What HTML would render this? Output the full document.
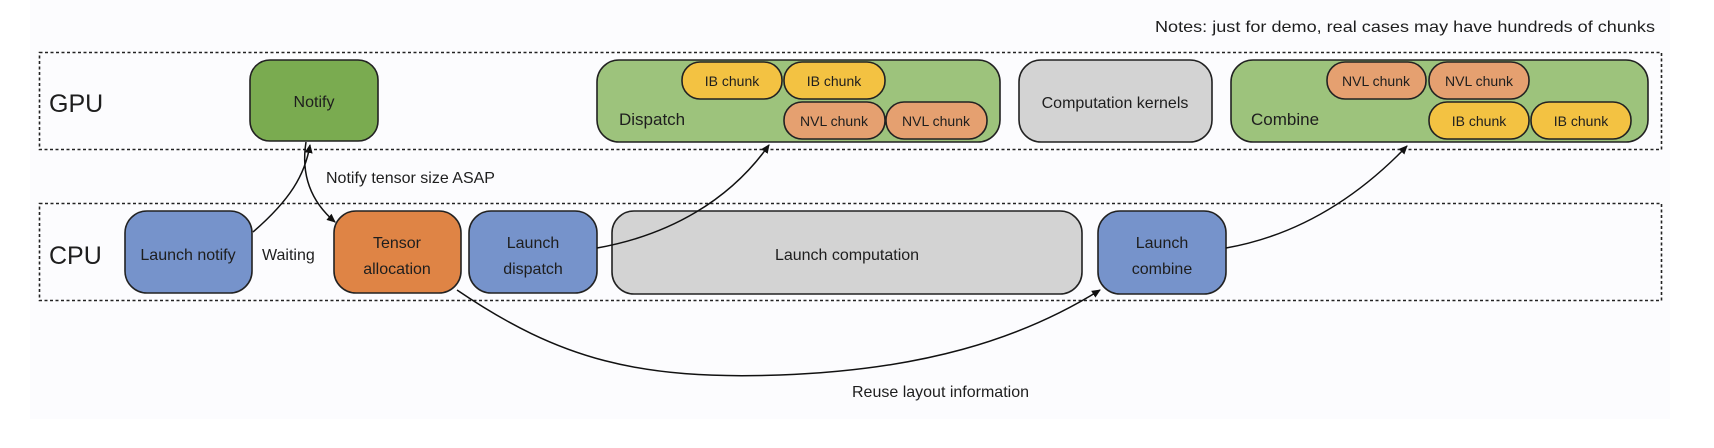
<!DOCTYPE html>
<html><head><meta charset="utf-8"><style>
html,body{margin:0;padding:0;background:#fff;}
svg{display:block;}
text{font-family:"Liberation Sans",sans-serif;fill:#1e1e1e;}
</style></head><body>
<svg width="1714" height="448" viewBox="0 0 1714 448" xmlns="http://www.w3.org/2000/svg">
<defs>
<marker id="ah" markerWidth="10" markerHeight="10" refX="8" refY="5" orient="auto" markerUnits="userSpaceOnUse">
<path d="M0,1 L9,5 L0,9 Z" fill="#111"/>
</marker>
</defs>
<rect x="30" y="0" width="1640" height="419" fill="#fcfcfe"/>
<text x="1655" y="32" font-size="16" text-anchor="end" textLength="500" lengthAdjust="spacingAndGlyphs">Notes: just for demo, real cases may have hundreds of chunks</text>

<rect x="39.5" y="52.5" width="1622" height="97" fill="none" stroke="#222" stroke-width="1.6" stroke-dasharray="3,2.5"/>
<rect x="39.5" y="203.5" width="1622" height="97" fill="none" stroke="#222" stroke-width="1.6" stroke-dasharray="3,2.5"/>

<text x="49" y="112" font-size="25">GPU</text>
<text x="49" y="264" font-size="25">CPU</text>

<g stroke="#222" stroke-width="1.6">
<rect x="250" y="60" width="128" height="81" rx="20" fill="#7aab50"/>
<rect x="597" y="60" width="403" height="82" rx="22" fill="#9dc37c"/>
<rect x="682" y="62" width="100" height="37" rx="18" fill="#f3c242"/>
<rect x="784" y="62" width="101" height="37" rx="18" fill="#f3c242"/>
<rect x="784" y="102" width="101" height="37" rx="18" fill="#e5a070"/>
<rect x="886" y="102" width="101" height="37" rx="18" fill="#e5a070"/>
<rect x="1019" y="60" width="193" height="82" rx="22" fill="#d3d3d3"/>
<rect x="1231" y="60" width="417" height="82" rx="22" fill="#9dc37c"/>
<rect x="1327" y="62" width="99" height="37" rx="18" fill="#e5a070"/>
<rect x="1429" y="62" width="100" height="37" rx="18" fill="#e5a070"/>
<rect x="1429" y="102" width="100" height="37" rx="18" fill="#f3c242"/>
<rect x="1531" y="102" width="100" height="37" rx="18" fill="#f3c242"/>

<rect x="125" y="211" width="127" height="82" rx="22" fill="#7693cb"/>
<rect x="334" y="211" width="127" height="82" rx="22" fill="#df8445"/>
<rect x="469" y="211" width="128" height="82" rx="22" fill="#7693cb"/>
<rect x="612" y="211" width="470" height="83" rx="22" fill="#d3d3d3"/>
<rect x="1098" y="211" width="128" height="83" rx="22" fill="#7693cb"/>
</g>

<g font-size="16" text-anchor="middle">
<text x="314" y="107">Notify</text>
<text x="732" y="86" font-size="14">IB chunk</text>
<text x="834" y="86" font-size="14">IB chunk</text>
<text x="834" y="126" font-size="14">NVL chunk</text>
<text x="936" y="126" font-size="14">NVL chunk</text>
<text x="1115" y="108">Computation kernels</text>
<text x="1376" y="86" font-size="14">NVL chunk</text>
<text x="1479" y="86" font-size="14">NVL chunk</text>
<text x="1479" y="126" font-size="14">IB chunk</text>
<text x="1581" y="126" font-size="14">IB chunk</text>
<text x="188" y="260">Launch notify</text>
<text x="397" y="248">Tensor</text>
<text x="397" y="274">allocation</text>
<text x="533" y="248">Launch</text>
<text x="533" y="274">dispatch</text>
<text x="847" y="260">Launch computation</text>
<text x="1162" y="248">Launch</text>
<text x="1162" y="274">combine</text>
</g>
<text x="619" y="125" font-size="17">Dispatch</text>
<text x="1251" y="125" font-size="17">Combine</text>
<text x="262" y="260" font-size="16">Waiting</text>
<text x="326" y="183" font-size="16">Notify tensor size ASAP</text>
<text x="852" y="397" font-size="16">Reuse layout information</text>

<g fill="none" stroke="#111" stroke-width="1.5">
<path d="M253,232 C290,200 305,175 310,145" marker-end="url(#ah)"/>
<path d="M306,142 C300,180 315,205 335,222" marker-end="url(#ah)"/>
<path d="M597,248 C670,235 730,200 769,145" marker-end="url(#ah)"/>
<path d="M1226,248 C1300,235 1360,195 1407,146" marker-end="url(#ah)"/>
<path d="M457,290 C560,360 640,380 780,375 C920,370 1020,340 1100,290" marker-end="url(#ah)"/>
</g>
</svg>
</body></html>
